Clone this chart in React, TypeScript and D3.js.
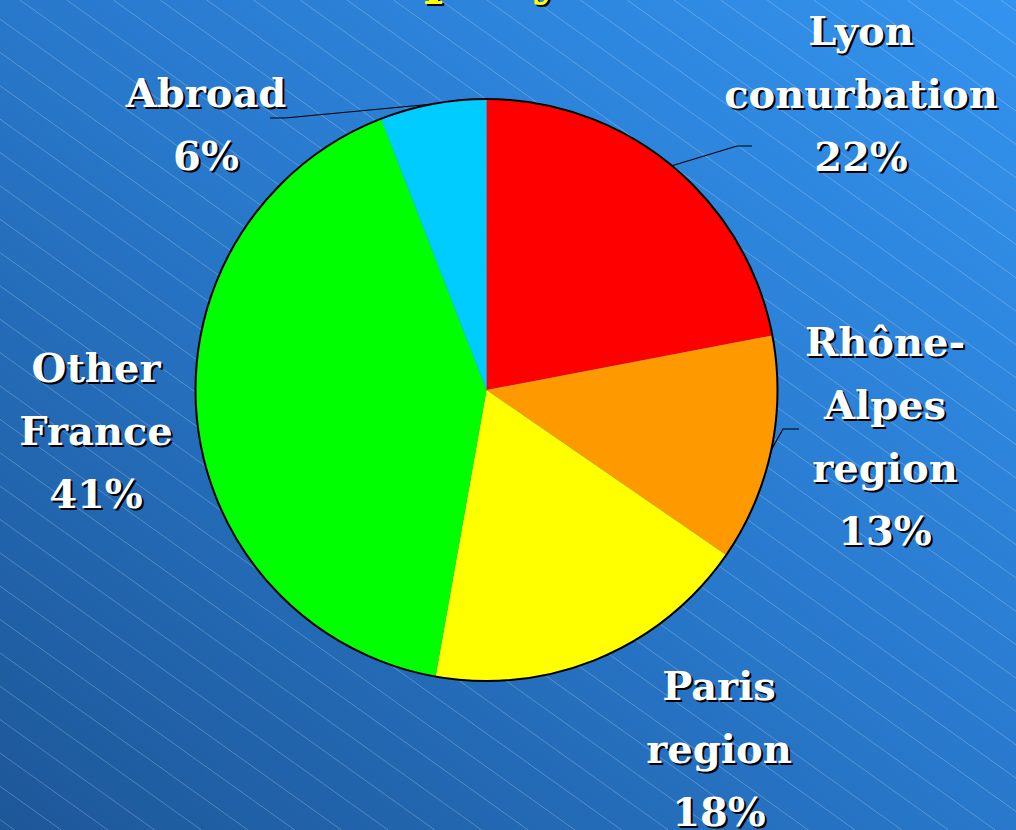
import React from "react";
import * as d3 from "d3";

const categories = ["Lyon conurbation", "Rhône-Alpes region", "Paris region", "Other France", "Abroad"];
const labelLines = [["Lyon", "conurbation"], ["Rhône-", "Alpes", "region"], ["Paris", "region"], ["Other", "France"], ["Abroad"]];
const shares = [22, 12.6, 18.2, 41.3, 5.9];
const colors = ["#ff0000", "#ff9900", "#ffff00", "#00ff00", "#00ccff"];
const titleText = "Company";

// label layout (center x, first baseline y) and leader lines
const labelPos = [
  { x: 861, y: 45, leader: [[737, 146], [752, 146]] },
  { x: 885, y: 356, leader: [[783, 429], [799, 429]] },
  { x: 719, y: 700, leader: null },
  { x: 96, y: 382, leader: null },
  { x: 206, y: 107, leader: [[285, 118], [270, 118]] },
];

const W = 1016, H = 830;
const cx = 486.5, cy = 390, R = 291;
const LINE = 63;
const FONT = "'DejaVu Serif', serif";
const FS = 40;

function ShadowText({ x, y, text, fill, size, anchor = "middle" }: any) {
  return (
    <g fontFamily={FONT} fontWeight="bold" fontSize={size} textAnchor={anchor}>
      <text x={x + 2} y={y + 2} fill="#000">{text}</text>
      <text x={x} y={y} fill={fill}>{text}</text>
    </g>
  );
}

export default function App() {
  const pie = d3.pie<number>().sort(null).value((d) => d)(shares);
  const arc = d3.arc<any>().innerRadius(0).outerRadius(R);
  const k = 46.7, slope = 1.4;
  const stripes = d3.range(-40, 25).map((i) => 20 + i * k);

  return (
    <svg width={W} height={H} style={{ position: "absolute", left: 0, top: 0 }}>
      <defs>
        <linearGradient id="bg" x1="1" y1="0" x2="0" y2="1">
          <stop offset="0" stopColor="#3393ee" />
          <stop offset="0.5" stopColor="#2878cb" />
          <stop offset="1" stopColor="#1d5798" />
        </linearGradient>
      </defs>
      <rect width={W} height={H} fill="url(#bg)" />
      <g stroke="#ffffff" strokeOpacity={0.3} strokeWidth={0.8}>
        {stripes.map((x0, i) => (
          <line key={i} x1={x0} y1={0} x2={x0 + H * slope} y2={H} />
        ))}
      </g>

      <ShadowText x={293} y={-7} text={titleText} fill="#ffff00" size={52} anchor="start" />

      <g transform={`translate(${cx},${cy})`}>
        {pie.map((p, i) => (
          <path key={categories[i]} d={arc(p) as string} fill={colors[i]} />
        ))}
        <circle r={R} fill="none" stroke="#000" strokeWidth={2} />
      </g>

      {pie.map((p, i) => {
        const lp = labelPos[i];
        if (!lp.leader) return null;
        const mid = (p.startAngle + p.endAngle) / 2;
        const sx = cx + R * Math.sin(mid), sy = cy - R * Math.cos(mid);
        const pts = [[sx, sy], ...lp.leader];
        return (
          <path key={"l" + i} d={d3.line()(pts as any) as string} fill="none" stroke="#000" strokeWidth={1.2} />
        );
      })}

      {pie.map((p, i) => {
        const lp = labelPos[i];
        const lines = [...labelLines[i], `${Math.round(shares[i])}%`];
        return (
          <g key={"t" + i}>
            {lines.map((t, j) => (
              <ShadowText key={j} x={lp.x} y={lp.y + j * LINE} text={t} fill="#ffffff" size={FS} />
            ))}
          </g>
        );
      })}
    </svg>
  );
}
